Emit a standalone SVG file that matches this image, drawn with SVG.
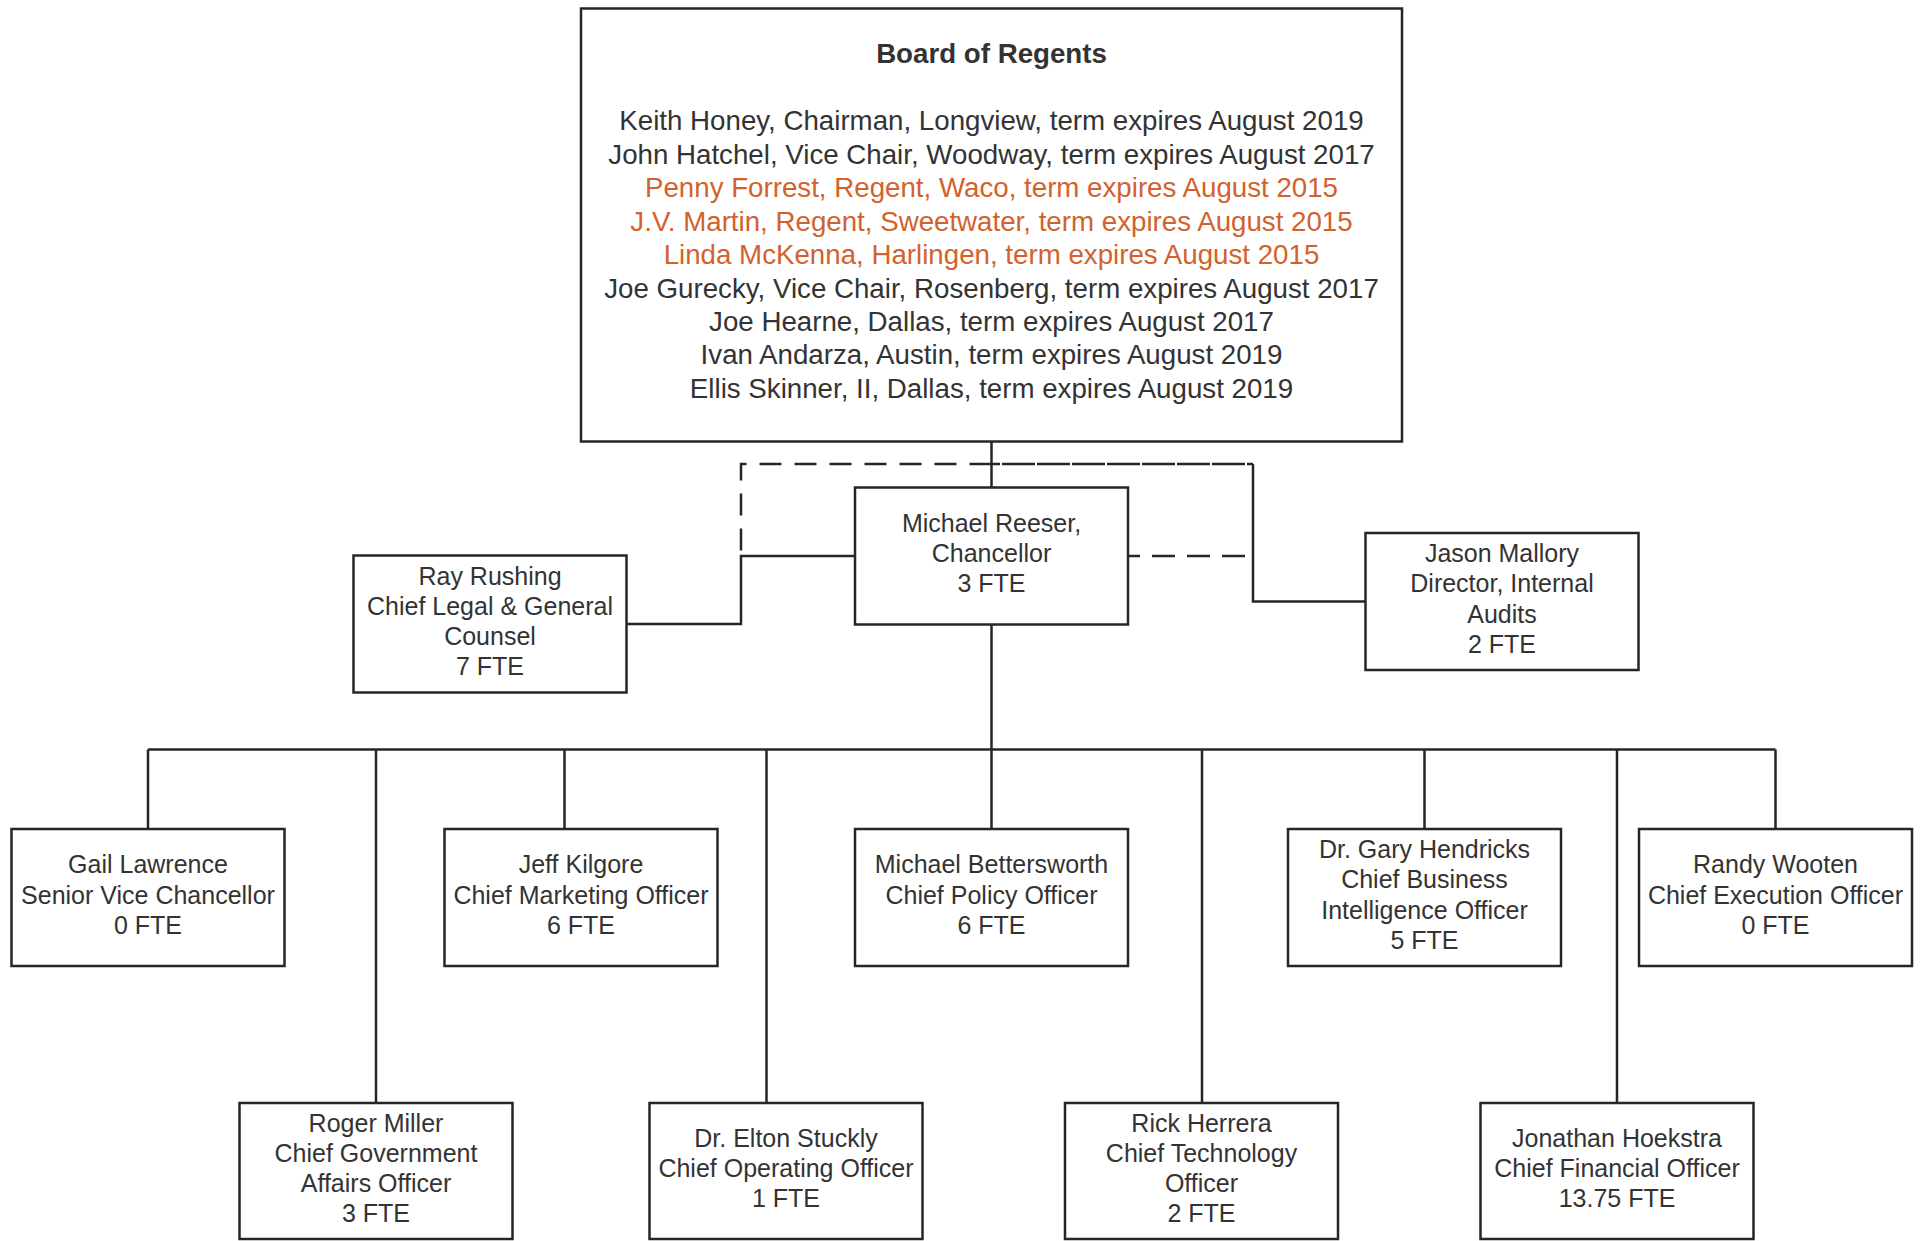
<svg xmlns="http://www.w3.org/2000/svg" width="1923" height="1241" viewBox="0 0 1923 1241">
<style>
.box{fill:#fff;stroke:#262626;stroke-width:2.5}
.t{font-family:"Liberation Sans",Arial,sans-serif;font-size:25px;fill:#333;text-anchor:middle}
.bt{font-family:"Liberation Sans",Arial,sans-serif;font-size:27.7px;fill:#333;text-anchor:middle}
.bold{font-weight:bold}
.org{fill:#d2622d}
.ln{fill:none;stroke:#262626;stroke-width:2.5}
.dash{stroke-dasharray:22 13}
</style>
<rect width="1923" height="1241" fill="#fff"/>
<g id="connectors">
<path class="ln" d="M991.5,441.5 V487.5"/>
<path class="ln" d="M1253,464 V601.5 H1365.5"/>
<path class="ln" d="M991.5,464 H1253" style="stroke-dasharray:33 2;stroke-dashoffset:24.5"/>
<path class="ln dash" d="M991.5,464 H741 V556"/>
<path class="ln" d="M855,556 H741 V624 H626.5"/>
<path class="ln" d="M1245,556 H1128" style="stroke-dasharray:23 12"/>
<path class="ln" d="M991.5,624.5 V749.5"/>
<path class="ln" d="M148,749.5 H1775.5"/>
<path class="ln" d="M148,749.5 V829 M376,749.5 V1103 M564.5,749.5 V829 M766.5,749.5 V1103 M991.5,749.5 V829 M1202,749.5 V1103 M1424.5,749.5 V829 M1617,749.5 V1103 M1775.5,749.5 V829"/>
</g>
<g id="board">
<rect class="box" x="581" y="8.5" width="821" height="433"/>
<text class="bt bold" x="991.5" y="63.3">Board of Regents</text>
<text class="bt" x="991.5" y="130.3">Keith Honey, Chairman, Longview, term expires August 2019</text>
<text class="bt" x="991.5" y="163.75">John Hatchel, Vice Chair, Woodway, term expires August 2017</text>
<text class="bt org" x="991.5" y="197.2">Penny Forrest, Regent, Waco, term expires August 2015</text>
<text class="bt org" x="991.5" y="230.65">J.V. Martin, Regent, Sweetwater, term expires August 2015</text>
<text class="bt org" x="991.5" y="264.1">Linda McKenna, Harlingen, term expires August 2015</text>
<text class="bt" x="991.5" y="297.55">Joe Gurecky, Vice Chair, Rosenberg, term expires August 2017</text>
<text class="bt" x="991.5" y="331">Joe Hearne, Dallas, term expires August 2017</text>
<text class="bt" x="991.5" y="364.45">Ivan Andarza, Austin, term expires August 2019</text>
<text class="bt" x="991.5" y="397.9">Ellis Skinner, II, Dallas, term expires August 2019</text>
</g>
<g id="chancellor">
<rect class="box" x="855" y="487.5" width="273" height="137"/>
<text class="t" x="991.5" y="531.7">Michael Reeser,</text>
<text class="t" x="991.5" y="562">Chancellor</text>
<text class="t" x="991.5" y="592.3">3 FTE</text>
</g>
<g id="ray">
<rect class="box" x="353.5" y="555.5" width="273" height="137"/>
<text class="t" x="490" y="584.5">Ray Rushing</text>
<text class="t" x="490" y="614.8">Chief Legal &amp; General</text>
<text class="t" x="490" y="645.1">Counsel</text>
<text class="t" x="490" y="675.4">7 FTE</text>
</g>
<g id="jason">
<rect class="box" x="1365.5" y="533" width="273" height="137"/>
<text class="t" x="1502" y="562">Jason Mallory</text>
<text class="t" x="1502" y="592.3">Director, Internal</text>
<text class="t" x="1502" y="622.6">Audits</text>
<text class="t" x="1502" y="652.9">2 FTE</text>
</g>
<g id="gail">
<rect class="box" x="11.5" y="829" width="273" height="137"/>
<text class="t" x="148" y="873.2">Gail Lawrence</text>
<text class="t" x="148" y="903.5">Senior Vice Chancellor</text>
<text class="t" x="148" y="933.8">0 FTE</text>
</g>
<g id="jeff">
<rect class="box" x="444.5" y="829" width="273" height="137"/>
<text class="t" x="581" y="873.2">Jeff Kilgore</text>
<text class="t" x="581" y="903.5">Chief Marketing Officer</text>
<text class="t" x="581" y="933.8">6 FTE</text>
</g>
<g id="bettersworth">
<rect class="box" x="855" y="829" width="273" height="137"/>
<text class="t" x="991.5" y="873.2">Michael Bettersworth</text>
<text class="t" x="991.5" y="903.5">Chief Policy Officer</text>
<text class="t" x="991.5" y="933.8">6 FTE</text>
</g>
<g id="hendricks">
<rect class="box" x="1288" y="829" width="273" height="137"/>
<text class="t" x="1424.5" y="858.05">Dr. Gary Hendricks</text>
<text class="t" x="1424.5" y="888.35">Chief Business</text>
<text class="t" x="1424.5" y="918.65">Intelligence Officer</text>
<text class="t" x="1424.5" y="948.95">5 FTE</text>
</g>
<g id="randy">
<rect class="box" x="1639" y="829" width="273" height="137"/>
<text class="t" x="1775.5" y="873.2">Randy Wooten</text>
<text class="t" x="1775.5" y="903.5">Chief Execution Officer</text>
<text class="t" x="1775.5" y="933.8">0 FTE</text>
</g>
<g id="roger">
<rect class="box" x="239.5" y="1103" width="273" height="136"/>
<text class="t" x="376" y="1131.55">Roger Miller</text>
<text class="t" x="376" y="1161.85">Chief Government</text>
<text class="t" x="376" y="1192.15">Affairs Officer</text>
<text class="t" x="376" y="1222.45">3 FTE</text>
</g>
<g id="elton">
<rect class="box" x="649.5" y="1103" width="273" height="136"/>
<text class="t" x="786" y="1146.7">Dr. Elton Stuckly</text>
<text class="t" x="786" y="1177">Chief Operating Officer</text>
<text class="t" x="786" y="1207.3">1 FTE</text>
</g>
<g id="rick">
<rect class="box" x="1065" y="1103" width="273" height="136"/>
<text class="t" x="1201.5" y="1131.55">Rick Herrera</text>
<text class="t" x="1201.5" y="1161.85">Chief Technology</text>
<text class="t" x="1201.5" y="1192.15">Officer</text>
<text class="t" x="1201.5" y="1222.45">2 FTE</text>
</g>
<g id="jonathan">
<rect class="box" x="1480.5" y="1103" width="273" height="136"/>
<text class="t" x="1617" y="1146.7">Jonathan Hoekstra</text>
<text class="t" x="1617" y="1177">Chief Financial Officer</text>
<text class="t" x="1617" y="1207.3">13.75 FTE</text>
</g>
</svg>
